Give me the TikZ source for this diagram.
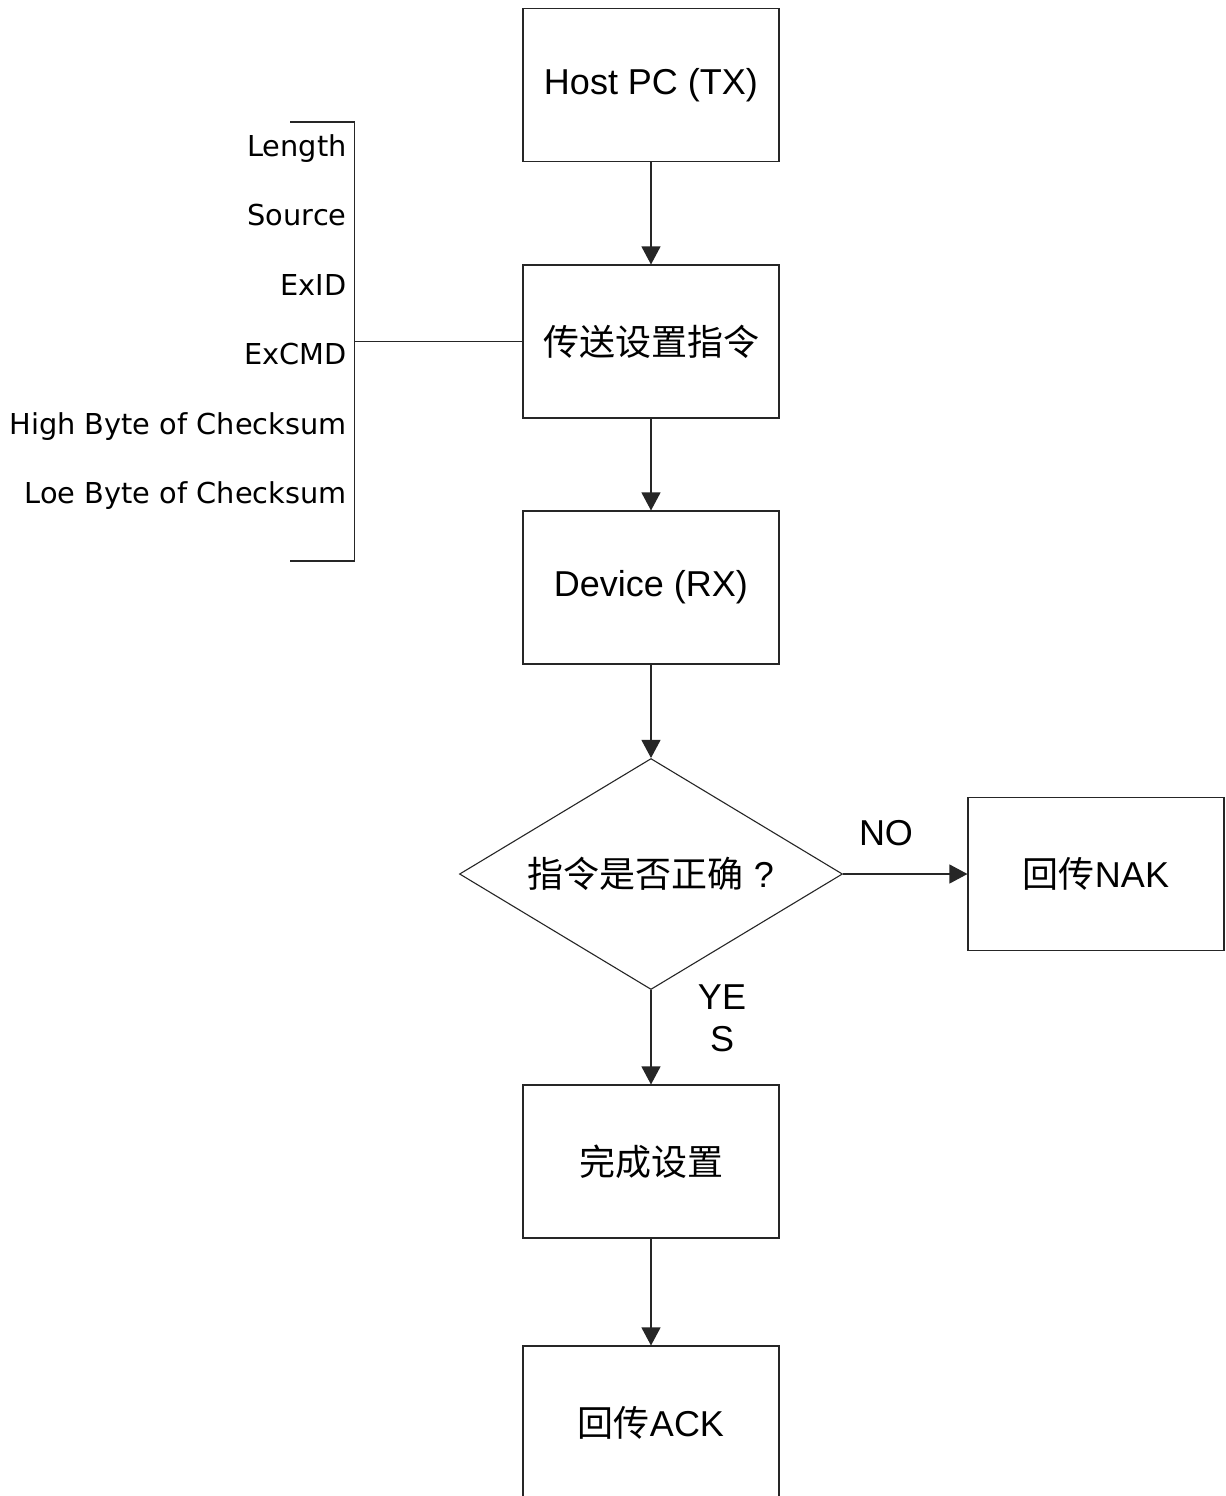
\documentclass[tikz,border=0pt]{standalone}
\usepackage{fontspec}
\setmainfont{Liberation Sans}
\newfontfamily\cjk{Noto Sans CJK SC}
\newfontfamily\fieldfont{DejaVu Sans}
\usetikzlibrary{arrows.meta,shapes.geometric}
\begin{document}
\begin{tikzpicture}[x=0.5pt,y=-0.5pt,
  stepbox/.style={draw=black!85,line width=0.55pt,rectangle,minimum width=128pt,minimum height=76.5pt,inner sep=0pt,font=\fontsize{18}{21}\selectfont},
  decbox/.style={draw=black!85,line width=0.55pt,diamond,aspect=1.658,minimum width=191.5pt,minimum height=115.5pt,inner sep=0pt,font=\fontsize{18}{21}\selectfont},
  flow/.style={draw=black!85,line width=0.55pt,-{Triangle[width=9.5pt,length=9pt]}},
  plain/.style={draw=black!85,line width=0.55pt},
  field/.style={anchor=base east,inner sep=0pt,font=\fieldfont\fontsize{14.4}{17}\selectfont},
  lbl/.style={inner sep=0pt,align=center,font=\fontsize{18}{21}\selectfont}]
\useasboundingbox[fill=white] (0,0) rectangle (1226,1496);

\node[stepbox] (host) at (651,85) {Host PC (TX)};
\node[stepbox] (send) at (651,341.5) {\cjk 传送设置指令};
\node[stepbox] (dev) at (651,587.5) {Device (RX)};
\node[decbox] (dec) at (651,874) {{\cjk 指令是否正确}\hspace{5pt}?};
\node[stepbox] (nak) at (1096,874) {{\cjk 回传}NAK};
\node[stepbox] (done) at (651,1161.5) {\cjk 完成设置};
\node[stepbox] (ack) at (651,1422.5) {{\cjk 回传}ACK};

\draw[flow] (host) -- (send);
\draw[flow] (send) -- (dev);
\draw[flow] (dev) -- (dec.north);
\draw[flow] (dec.east) -- (nak.west);
\draw[flow] (dec.south) -- (done.north);
\draw[flow] (done) -- (ack);

\node[lbl] (no) at (886,833) {NO};
\node[lbl] (yes) at (722,1018) {YE\\S};

% field list bracket
\coordinate (btl) at (290,122);
\coordinate (bt) at (354.5,122);
\coordinate (bm) at (354.5,341.5);
\coordinate (bb) at (354.5,561);
\coordinate (bbl) at (290,561);
\draw[plain] (btl) -- (bt) -- (bb) -- (bbl);
\draw[plain] (bm) -- (send.west);

\node[field] (f1) at (347,156) {Length};
\node[field] (f2) at (347,225) {Source};
\node[field] (f3) at (347,295) {ExID};
\node[field] (f4) at (347,364) {ExCMD};
\node[field] (f5) at (347,434) {High Byte of Checksum};
\node[field] (f6) at (347,503) {Loe Byte of Checksum};
\end{tikzpicture}
\end{document}
